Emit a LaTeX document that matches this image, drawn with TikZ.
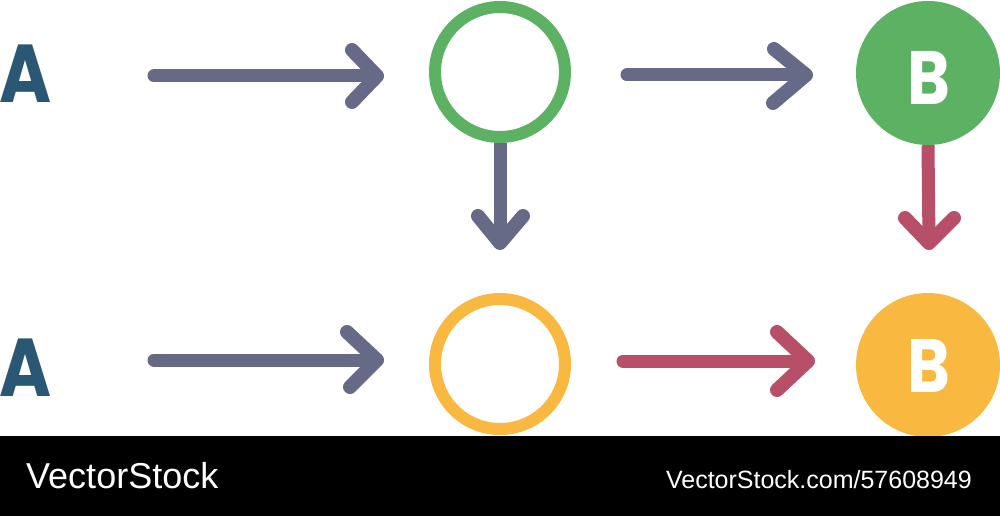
\documentclass[tikz,border=0pt]{standalone}
\usepackage{fontspec}
\setmainfont{Liberation Sans}
\newfontfamily\letterfont{Poppins}
\usetikzlibrary{calc}
\definecolor{cA}{RGB}{42,88,116}
\definecolor{cGr}{RGB}{103,106,135}
\definecolor{cG}{RGB}{93,177,99}
\definecolor{cR}{RGB}{184,79,105}
\definecolor{cO}{RGB}{249,184,63}
\newcommand\narrowlet[1]{\scalebox{0.93}[1.08]{#1}}
\tikzset{
  shaft/.style={line width=13pt, line cap=round, line join=round},
  head/.style={line width=14pt, line cap=round, line join=round},
  lettr/.style={inner sep=0pt, font=\letterfont\bfseries\fontsize{76}{76}\selectfont, text height=57pt, text depth=0pt},
  ring/.style={circle, draw, line width=12pt, minimum size=130pt, inner sep=0pt},
  disc/.style={circle, draw=none, minimum size=144pt, inner sep=0pt},
  barA/.style={text=white, inner sep=0pt, font=\fontsize{36}{36}\selectfont},
  barB/.style={text=white, inner sep=0pt, font=\fontsize{25}{25}\selectfont}
}
\begin{document}
\begin{tikzpicture}[x=1pt,y=-1pt]
\useasboundingbox (0,0) rectangle (1000,516);
\fill[white] (0,0) rectangle (1000,516);
% nodes
\node[lettr, text=cA] (A1) at (26,74) {\narrowlet{A}};
\node[lettr, text=cA] (A2) at (26,368) {\narrowlet{A}};
\node[ring, draw=cG] (R1) at (500,72) {};
\node[ring, draw=cO] (R2) at (500,364) {};
\node[disc, fill=cG] (D1) at (928,73) {};
\node[disc, fill=cO] (D2) at (928,365) {};
\node[lettr, text=white, font=\letterfont\bfseries\fontsize{70}{70}\selectfont, text height=53pt] (B1) at (929,78) {\narrowlet{B}};
\node[lettr, text=white, font=\letterfont\bfseries\fontsize{70}{70}\selectfont, text height=53pt] (B2) at (929,366) {\narrowlet{B}};
% arrow end points
\coordinate (s1) at (154,76);  \coordinate (t1) at (377,76);
\coordinate (s2) at (627,75);  \coordinate (t2) at (806,75);
\coordinate (s3) at (154,360); \coordinate (t3) at (377,360);
\coordinate (s4) at (623,361); \coordinate (t4) at (808,361);
\coordinate (t5) at (500,243);
\coordinate (t6) at (929,243);
% top row
\draw[shaft, cGr] (s1) -- (t1);
\draw[head, cGr] (t1) ++(-25,-26) -- (t1) -- ++(-25,26);
\draw[shaft, cGr] (s2) -- (t2);
\draw[head, cGr] (t2) ++(-32,-26) -- (t2) -- ++(-33,28);
% verticals
\draw[shaft, cGr, line cap=butt] (R1.south) -- (t5);
\draw[head, cGr] (t5) ++(-22,-27) -- (t5) -- ++(23,-27);
\draw[shaft, cR, line cap=butt] (D1.south) -- (t6);
\draw[head, cR] (t6) ++(-24,-25) -- (t6) -- ++(25,-25);
% bottom row
\draw[shaft, cGr] (s3) -- (t3);
\draw[head, cGr] (t3) ++(-30,-28) -- (t3) -- ++(-27,27);
\draw[shaft, cR] (s4) -- (t4);
\draw[head, cR] (t4) ++(-31,-29) -- (t4) -- ++(-31,29);
% bottom bar
\fill[black] (0,436) rectangle (1000,516);
\node[barA, anchor=base west] (L1) at (26,488) {VectorStock};
\node[barB, anchor=base east] (L2) at (972,488) {VectorStock.com/57608949};
\end{tikzpicture}
\end{document}
